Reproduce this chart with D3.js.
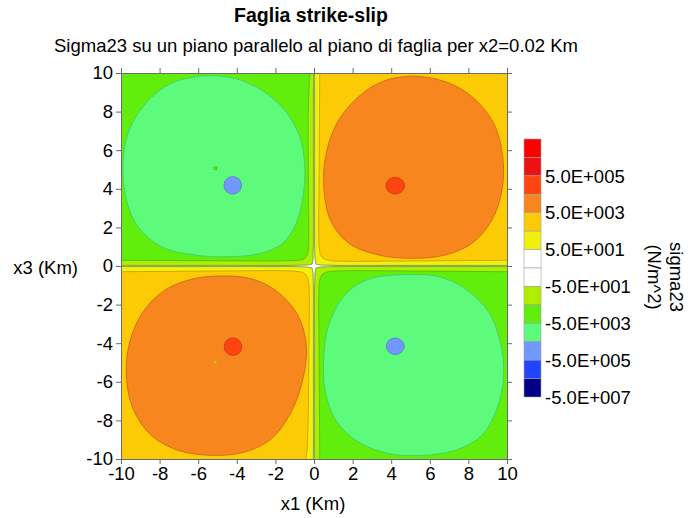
<!DOCTYPE html>
<html>
<head>
<meta charset="utf-8">
<script src="https://cdn.jsdelivr.net/npm/d3@7"></script>
<style>
  body { margin: 0; background: #fff; }
  svg text { font-family: "Liberation Sans", Arial, sans-serif; fill: #000; }
</style>
</head>
<body>
<svg id="chart" width="689" height="518"></svg>
<script>
// contour level boundaries, top of the colour bar to the bottom
const levels = [5e7, 5e6, 5e5, 5e4, 5e3, 5e2, 5e1, 0, -5e1, -5e2, -5e3, -5e4, -5e5, -5e6, -5e7];
// fill of each band between two levels
const levelColors = ["#ff0000", "#ee1111", "#ff4411", "#f8861f", "#fdcb06", "#f0f00c", "#ffffff",
                     "#ffffff", "#aeef00", "#62ee0c", "#5cfb7c", "#7198ff", "#2244ff", "#000088"];
const barLabelLevels = [5e5, 5e3, 5e1, -5e1, -5e3, -5e5, -5e7];
const axisTicks = [-10, -8, -6, -4, -2, 0, 2, 4, 6, 8, 10];

// contour outlines, in km (x1, x3)
const quadTL = [[-10.5, 0], [0, 0], [0, 10.5], [-10.5, 10.5]];
const quadTR = [[0, 0], [10.5, 0], [10.5, 10.5], [0, 10.5]];
const quadBL = [[-10.5, -10.5], [0, -10.5], [0, 0], [-10.5, 0]];
const quadBR = [[0, -10.5], [10.5, -10.5], [10.5, 0], [0, 0]];

const mainTL = [[-0.15, 10.5], [-0.25, 9.5], [-0.3, 8], [-0.3, 5], [-0.27, 2], [-0.28, 1.0], [-0.33, 0.6],
                [-0.45, 0.42], [-0.6, 0.33], [-1.0, 0.28], [-2, 0.26], [-5, 0.27], [-10.5, 0.3], [-10.5, 10.5]];
const mainTR = [[0.3, 10.5], [0.27, 5], [0.24, 2], [0.26, 1.0], [0.33, 0.6], [0.45, 0.42], [0.6, 0.33],
                [1.0, 0.26], [2, 0.24], [5, 0.26], [10.5, 0.3], [10.5, 10.5]];
const mainBL = [[-0.5, -10.5], [-0.35, -9.5], [-0.3, -8], [-0.27, -5], [-0.24, -2], [-0.26, -1], [-0.33, -0.6],
                [-0.45, -0.42], [-0.6, -0.33], [-1, -0.26], [-2, -0.24], [-5, -0.26], [-10.5, -0.3], [-10.5, -10.5]];
const mainBR = [[0.3, -10.5], [0.27, -5], [0.24, -2], [0.26, -1], [0.33, -0.6], [0.45, -0.42], [0.6, -0.33],
                [1, -0.26], [2, -0.24], [5, -0.26], [10.5, -0.3], [10.5, -10.5]];

const axisZone = [[0.03, 10.5], [0.03, 1.2], [0.05, 0.35], [0.1, 0.1], [0.35, 0.05], [1.2, 0.03], [10.5, 0.03],
                  [10.5, -0.03], [1.2, -0.03], [0.35, -0.05], [0.1, -0.1], [0.05, -0.35], [0.03, -1.2], [0.03, -10.5],
                  [-0.03, -10.5], [-0.03, -1.2], [-0.05, -0.35], [-0.1, -0.1], [-0.35, -0.05], [-1.2, -0.03], [-10.5, -0.03],
                  [-10.5, 0.03], [-1.2, 0.03], [-0.35, 0.05], [-0.1, 0.1], [-0.05, 0.35], [-0.03, 1.2], [-0.03, 10.5]];

const blobTL = [[-5.84, 9.84], [-4.11, 9.72], [-2.73, 9.12], [-1.52, 8.08], [-0.74, 6.7], [-0.48, 5.15], [-0.57, 3.59],
                [-0.92, 2.21], [-1.61, 1.18], [-2.73, 0.66], [-4.46, 0.48], [-6.18, 0.57], [-7.91, 1.0], [-9.12, 2.04],
                [-9.72, 3.42], [-9.9, 5.15], [-9.64, 6.88], [-8.86, 8.25], [-7.56, 9.38]];
const blobTR = [[5.08, 9.84], [6.8, 9.55], [8.19, 8.77], [9.31, 7.39], [9.78, 5.66], [9.74, 3.94], [9.22, 2.38],
                [8.19, 1.18], [6.8, 0.57], [5.08, 0.4], [3.35, 0.57], [1.8, 1.18], [0.85, 2.38], [0.5, 4.29],
                [0.67, 6.01], [1.28, 7.56], [2.31, 8.77], [3.52, 9.55]];
const blobBL = [[-4.97, -0.52], [-3.25, -0.66], [-1.87, -1.35], [-0.83, -2.56], [-0.4, -4.11], [-0.57, -5.84],
                [-1.18, -7.56], [-2.21, -8.95], [-3.59, -9.64], [-5.32, -9.81], [-7.05, -9.55], [-8.43, -8.77],
                [-9.38, -7.39], [-9.72, -5.66], [-9.55, -3.94], [-8.86, -2.38], [-7.74, -1.26], [-6.36, -0.69]];
const blobBR = [[3.35, -0.55], [5.08, -0.45], [6.46, -0.55], [7.84, -1.18], [9.05, -2.38], [9.65, -3.94], [9.83, -5.66],
                [9.48, -7.39], [8.7, -8.77], [7.32, -9.55], [5.6, -9.81], [3.87, -9.72], [2.31, -9.12], [1.19, -8.08],
                [0.59, -6.53], [0.5, -4.8], [0.76, -3.07], [1.45, -1.69], [2.31, -0.92]];

const spotTL = [[-4.21, 4.63], [-3.89, 4.5], [-3.76, 4.18], [-3.89, 3.86], [-4.21, 3.73], [-4.53, 3.86], [-4.66, 4.18], [-4.53, 4.5]];
const spotTR = [[4.21, 4.59], [4.55, 4.46], [4.69, 4.16], [4.55, 3.86], [4.21, 3.73], [3.87, 3.86], [3.73, 4.16], [3.87, 4.46]];
const spotBL = [[-4.2, -3.73], [-3.88, -3.86], [-3.75, -4.18], [-3.88, -4.5], [-4.2, -4.63], [-4.52, -4.5], [-4.65, -4.18], [-4.52, -3.86]];
const spotBR = [[4.21, -3.73], [4.53, -3.86], [4.67, -4.16], [4.53, -4.46], [4.21, -4.59], [3.89, -4.46], [3.75, -4.16], [3.89, -3.86]];

const specTL = [[-5.2, 5.12], [-5.02, 5.14], [-5.05, 4.98], [-5.18, 5.0]];
const specBL = [[-5.11, -4.86], [-5.0, -5.05], [-5.22, -5.05]];

// band index (into levelColors), outline, smooth or not
const regions = [
  { band: 8, pts: quadTL, smooth: false }, { band: 5, pts: quadTR, smooth: false },
  { band: 5, pts: quadBL, smooth: false }, { band: 8, pts: quadBR, smooth: false },
  { band: 9, pts: mainTL, smooth: false }, { band: 4, pts: mainTR, smooth: false },
  { band: 4, pts: mainBL, smooth: false }, { band: 9, pts: mainBR, smooth: false },
  { band: 6, pts: axisZone, smooth: false },
  { band: 10, pts: blobTL, smooth: true }, { band: 3, pts: blobTR, smooth: true },
  { band: 3, pts: blobBL, smooth: true }, { band: 10, pts: blobBR, smooth: true },
  { band: 11, pts: spotTL, smooth: true }, { band: 2, pts: spotTR, smooth: true },
  { band: 2, pts: spotBL, smooth: true }, { band: 11, pts: spotBR, smooth: true },
  { band: 9, pts: specTL, smooth: false }, { band: 4, pts: specBL, smooth: false }
];

const svg = d3.select('#chart');
const x = d3.scaleLinear().domain([-10, 10]).range([121, 507]);
const y = d3.scaleLinear().domain([-10, 10]).range([459, 73]);

svg.append('clipPath').attr('id', 'plot-clip')
  .append('rect')
  .attr('x', x(-10)).attr('y', y(10))
  .attr('width', x(10) - x(-10)).attr('height', y(-10) - y(10));

const plot = svg.append('g').attr('clip-path', 'url(#plot-clip)');

const lineLinear = d3.line().x(d => x(d[0])).y(d => y(d[1])).curve(d3.curveLinearClosed);
const lineSmooth = d3.line().x(d => x(d[0])).y(d => y(d[1])).curve(d3.curveCatmullRomClosed.alpha(0.5));

plot.selectAll('path.region')
  .data(regions)
  .enter()
  .append('path')
  .attr('class', 'region')
  .attr('d', d => (d.smooth ? lineSmooth : lineLinear)(d.pts))
  .attr('fill', d => levelColors[d.band])
  .attr('stroke', d => d.band === 6 ? '#6f9040' : d3.color(levelColors[d.band]).darker(0.6))
  .attr('stroke-width', d => d.band === 6 ? 0.8 : 0.9)
  .attr('stroke-linejoin', 'round');

// frame and ticks on all four sides
const styleAxis = g => {
  g.select('.domain').attr('stroke', '#6a6a6a');
  g.selectAll('.tick line').attr('stroke', '#6a6a6a');
  g.selectAll('.tick text').style('font-size', '18.5px').attr('fill', '#000');
  g.attr('font-family', null).attr('font-size', null);
};
const plainNum = d => String(d); // hyphen minus, as in the original
svg.append('g').attr('transform', `translate(0,${y(-10)})`)
  .call(d3.axisBottom(x).tickValues(axisTicks).tickSize(5).tickSizeOuter(0).tickPadding(3).tickFormat(plainNum))
  .call(styleAxis);
svg.append('g').attr('transform', `translate(${x(-10)},0)`)
  .call(d3.axisLeft(y).tickValues(axisTicks).tickSize(5).tickSizeOuter(0).tickPadding(3).tickFormat(plainNum))
  .call(styleAxis);
svg.append('g').attr('transform', `translate(0,${y(10)})`)
  .call(d3.axisTop(x).tickValues(axisTicks).tickSize(5).tickSizeOuter(0).tickFormat(''))
  .call(styleAxis);
svg.append('g').attr('transform', `translate(${x(10)},0)`)
  .call(d3.axisRight(y).tickValues(axisTicks).tickSize(5).tickSizeOuter(0).tickFormat(''))
  .call(styleAxis);

// axis titles
svg.append('text').attr('x', 313).attr('y', 510).attr('text-anchor', 'middle')
  .style('font-size', '18.5px').text('x1 (Km)');
svg.append('text').attr('x', 78).attr('y', 274).attr('text-anchor', 'end')
  .style('font-size', '18.5px').text('x3 (Km)');

// titles
svg.append('text').attr('x', 311).attr('y', 22).attr('text-anchor', 'middle')
  .style('font-size', '19.5px').style('font-weight', 'bold').text('Faglia strike-slip');
svg.append('text').attr('x', 316).attr('y', 52).attr('text-anchor', 'middle')
  .style('font-size', '18.5px').text('Sigma23 su un piano parallelo al piano di faglia per x2=0.02 Km');

// colour bar
const barY = d3.scaleLinear().domain([0, levels.length - 1]).range([139, 397]);
const bar = svg.append('g');
bar.selectAll('rect')
  .data(levelColors)
  .enter()
  .append('rect')
  .attr('x', 524)
  .attr('width', 17)
  .attr('y', (d, i) => barY(i))
  .attr('height', (d, i) => barY(i + 1) - barY(i))
  .attr('fill', d => d)
  .attr('stroke', '#a0a0a0')
  .attr('stroke-width', 0.6);

const fmtLevel = v => {
  const exp = Math.floor(Math.log10(Math.abs(v)));
  const mant = Math.abs(v) / Math.pow(10, exp);
  return (v < 0 ? '-' : '') + mant.toFixed(1) + 'E+' + String(exp).padStart(3, '0');
};
bar.selectAll('text')
  .data(barLabelLevels)
  .enter()
  .append('text')
  .attr('x', 545)
  .attr('y', d => barY(levels.indexOf(d)))
  .attr('dy', '0.36em')
  .style('font-size', '18.5px')
  .text(d => fmtLevel(d));

const barTitle = svg.append('text')
  .attr('transform', 'translate(670,277) rotate(90)')
  .attr('text-anchor', 'middle')
  .style('font-size', '18.5px');
barTitle.append('tspan').attr('x', 0).attr('y', 0).text('sigma23');
barTitle.append('tspan').attr('x', 0).attr('y', 22).text('(N/m^2)');
</script>
</body>
</html>
